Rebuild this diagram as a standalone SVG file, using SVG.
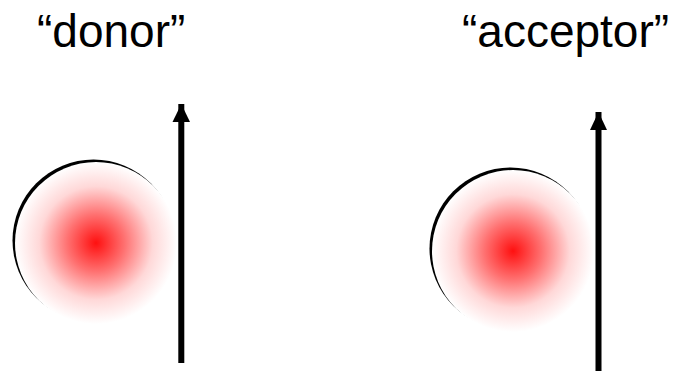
<svg xmlns="http://www.w3.org/2000/svg" width="679" height="371" viewBox="0 0 679 371">
<style>
.lbl{font-family:"Liberation Sans",Arial,sans-serif;font-size:46px;fill:#000}
.arr{stroke:#000;stroke-width:6;fill:none}
</style>
<defs>
<radialGradient id="g" cx="0.5" cy="0.5" r="0.5">
<stop offset="0" stop-color="#ff1010"/>
<stop offset="0.35" stop-color="#ff7070"/>
<stop offset="0.7" stop-color="#ffd8d8"/>
<stop offset="1" stop-color="#ffffff"/>
</radialGradient>
<marker id="ah" markerWidth="3" markerHeight="3.2" refX="0" refY="1.5" orient="auto" markerUnits="strokeWidth" viewBox="0 0 3.2 3">
<path d="M0,0 L3.2,1.5 L0,3 Z" fill="#000"/>
</marker>
</defs>
<g id="donor-label"><text class="lbl" x="37" y="47">“donor”</text></g>
<g id="acceptor-label"><text class="lbl" x="462" y="47">“acceptor”</text></g>
<g id="donor">
<circle cx="93.5" cy="240.5" r="81" fill="#000"/>
<circle cx="96" cy="243" r="81" fill="url(#g)"/>
</g>
<g id="acceptor">
<circle cx="510.5" cy="248.5" r="81" fill="#000"/>
<circle cx="513" cy="251" r="81" fill="url(#g)"/>
</g>
<g id="connectors">
<path class="arr" d="M181.3,363 V104" />
<path d="M181.3,104 L172.5,122 L190,122 Z" fill="#000"/>
<path class="arr" d="M598.5,371 V112" />
<path d="M598.5,112 L590,130 L607,130 Z" fill="#000"/>
</g>
</svg>
